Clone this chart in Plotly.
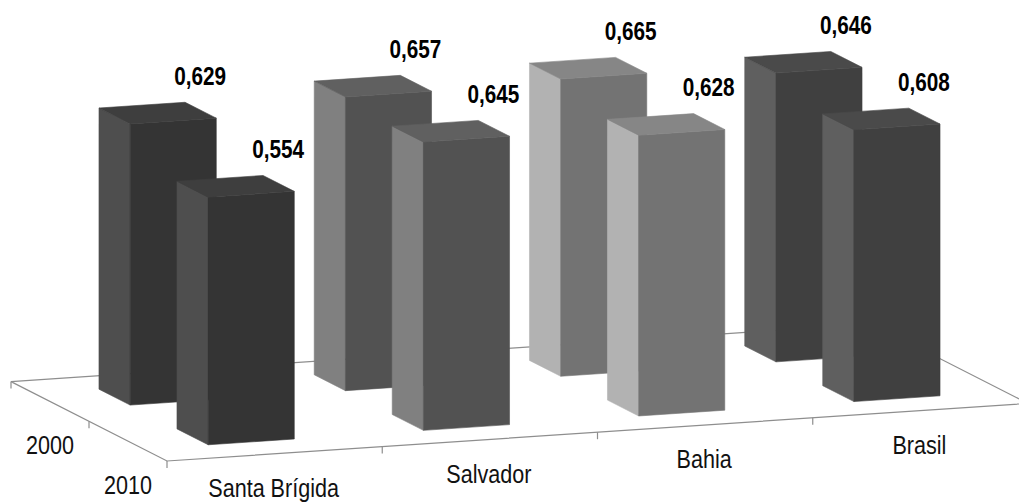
import plotly.graph_objects as go

# Chart data
categories = ["Santa Brígida", "Salvador", "Bahia", "Brasil"]
years = ["2000", "2010"]
values_2000 = [0.629, 0.657, 0.665, 0.646]
values_2010 = [0.554, 0.645, 0.628, 0.608]
value_labels_2000 = ["0,629", "0,657", "0,665", "0,646"]
value_labels_2010 = ["0,554", "0,645", "0,628", "0,608"]

# Shades per category: front, side and top faces
front_colors = ["#343434", "#525252", "#737373", "#404040"]
side_colors = ["#4e4e4e", "#808080", "#b2b2b2", "#5f5f5f"]
top_colors = ["#3e3e3e", "#606060", "#868686", "#4a4a4a"]

AXIS_COLOR = "#8e8e8e"
FONT = "Liberation Sans, Arial, sans-serif"

# Condenses every text mark horizontally around its own anchor point
CONDENSE_TEXT = """
document.querySelectorAll('.textpoint text').forEach(function (t) {
  var x = parseFloat(t.getAttribute('x'));
  var prev = t.getAttribute('transform') || '';
  t.setAttribute('transform',
    prev + ' translate(' + x + ' 0) scale(0.83 1) translate(' + (-x) + ' 0)');
});
"""


def project(cat, depth, value=0.0):
    """Oblique projection of floor position plus value height to pixels."""
    x = 167 + 215.25 * cat - 78 * depth
    y = 461 - 14.4 * cat - 39.7 * depth - 447 * value
    return x, y


def polygon(points, color):
    xs, ys = zip(*(project(*p) for p in points))
    return go.Scatter(
        x=list(xs) + [xs[0]], y=list(ys) + [ys[0]], mode="lines", fill="toself",
        fillcolor=color, line=dict(width=0.6, color=color), hoverinfo="skip",
    )


def axis_line(points):
    xs, ys = zip(*(project(*p) for p in points))
    return go.Scatter(
        x=xs, y=ys, mode="lines", line=dict(width=1.2, color=AXIS_COLOR), hoverinfo="skip",
    )


def tick(cat, depth):
    x, y = project(cat, depth)
    return go.Scatter(
        x=[x, x], y=[y, y + 7], mode="lines",
        line=dict(width=1.2, color=AXIS_COLOR), hoverinfo="skip",
    )


fig = go.Figure()

# Floor outline with its tick marks
n_cat, n_ser = len(categories), len(years)
fig.add_trace(axis_line([(0, n_ser), (n_cat, n_ser), (n_cat, 0), (0, 0), (0, n_ser)]))
for c in range(n_cat):
    fig.add_trace(tick(c, 0))
for s in range(1, n_ser + 1):
    fig.add_trace(tick(0, s))

# Bars, drawn from the back row to the front row
label_x, label_y, label_text = [], [], []
for row, (vals, labels) in enumerate([(values_2000, value_labels_2000),
                                      (values_2010, value_labels_2010)]):
    d0 = n_ser - 1 - row + 0.3
    d1 = d0 + 0.4
    for c, v in enumerate(vals):
        c0, c1 = c + 0.3, c + 0.7
        fig.add_trace(polygon([(c0, d1, 0), (c0, d0, 0), (c0, d0, v), (c0, d1, v)], side_colors[c]))
        fig.add_trace(polygon([(c0, d0, 0), (c1, d0, 0), (c1, d0, v), (c0, d0, v)], front_colors[c]))
        fig.add_trace(polygon([(c0, d0, v), (c1, d0, v), (c1, d1, v), (c0, d1, v)], top_colors[c]))
        x, y = project(c0, d0, v)
        label_x.append(x + 70)
        label_y.append(y - 45)
        label_text.append(labels[c])

# Value labels above the bars
fig.add_trace(go.Scatter(
    x=label_x, y=label_y, text=label_text, mode="text", textposition="middle center",
    textfont=dict(family=FONT, size=25, color="#000000", weight="bold"), hoverinfo="skip",
))

# Category labels along the front edge
cat_pos = [project(c + 0.5, 0) for c in range(n_cat)]
fig.add_trace(go.Scatter(
    x=[p[0] - 1 for p in cat_pos], y=[p[1] + 37 for p in cat_pos], text=categories,
    mode="text", textposition="middle center",
    textfont=dict(family=FONT, size=26, color="#111111"), hoverinfo="skip",
))

# Year labels along the left edge
year_pos = [project(0, n_ser - 1 - s + 0.5) for s in range(n_ser)]
fig.add_trace(go.Scatter(
    x=[p[0] for p in year_pos], y=[p[1] + 46 for p in year_pos], text=years,
    mode="text", textposition="middle center",
    textfont=dict(family=FONT, size=26, color="#111111"), hoverinfo="skip",
))

fig.update_layout(
    width=1019, height=502, autosize=False, showlegend=False,
    margin=dict(l=0, r=0, t=0, b=0), paper_bgcolor="white", plot_bgcolor="white",
    xaxis=dict(range=[0, 1019], visible=False, fixedrange=True),
    yaxis=dict(range=[502, 0], visible=False, fixedrange=True),
)
fig.write_html("out.html", config=dict(displayModeBar=False), post_script=CONDENSE_TEXT)
